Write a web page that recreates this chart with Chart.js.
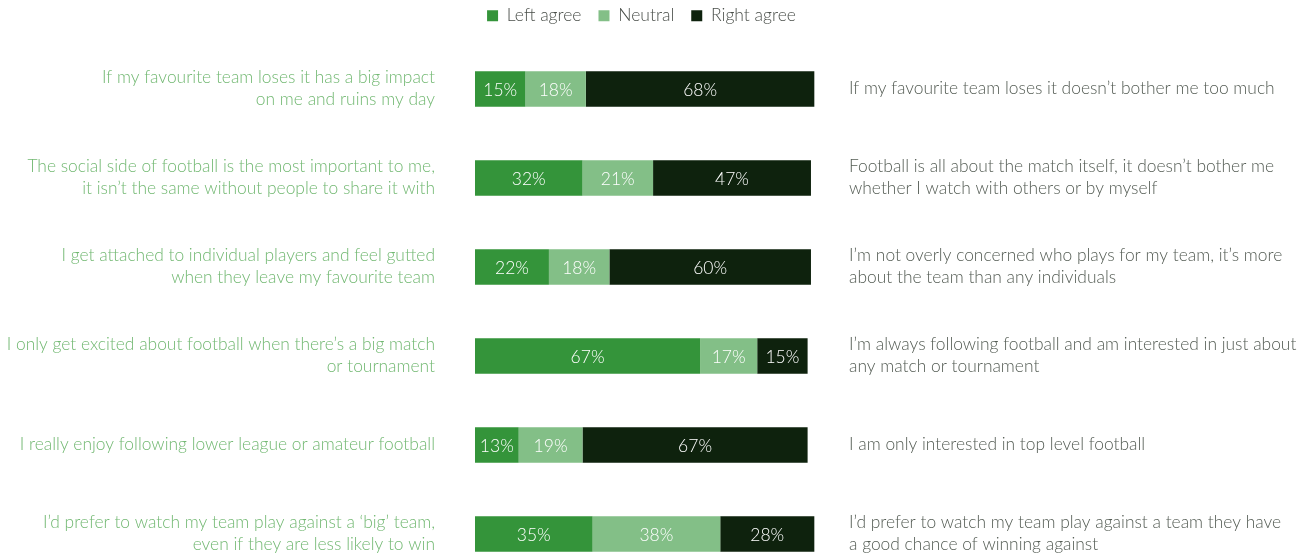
<!DOCTYPE html>
<html>
<head>
<meta charset="utf-8">
<script src="https://cdn.jsdelivr.net/npm/chart.js@4/dist/chart.umd.min.js"></script>
<style>
  html, body { margin: 0; padding: 0; background: #fff; overflow: hidden; }
  #wrap { width: 1313px; height: 557px; }
</style>
</head>
<body>
<div id="wrap"><canvas id="myChart" width="1313" height="557"></canvas></div>
<script>
// statements on the left side
const leftLabels = [
    ['If my favourite team loses it has a big impact', 'on me and ruins my day'],
    ['The social side of football is the most important to me,', 'it isn\u2019t the same without people to share it with'],
    ['I get attached to individual players and feel gutted', 'when they leave my favourite team'],
    ['I only get excited about football when there\u2019s a big match', 'or tournament'],
    'I really enjoy following lower league or amateur football',
    ['I\u2019d prefer to watch my team play against a \u2018big\u2019 team,', 'even if they are less likely to win']
];

// statements on the right side
const rightLabels = [
    'If my favourite team loses it doesn\u2019t bother me too much',
    ['Football is all about the match itself, it doesn\u2019t bother me', 'whether I watch with others or by myself'],
    ['I\u2019m not overly concerned who plays for my team, it\u2019s more', 'about the team than any individuals'],
    ['I\u2019m always following football and am interested in just about', 'any match or tournament'],
    'I am only interested in top level football',
    ['I\u2019d prefer to watch my team play against a team they have', 'a good chance of winning against']
];

// percentages
const leftAgree = [15, 32, 22, 67, 13, 35];
const neutral = [18, 21, 18, 17, 19, 38];
const rightAgree = [68, 47, 60, 15, 67, 28];

const FONT = 'Lato, "Open Sans", sans-serif';

// writes the % inside each bar segment
const barValues = {
    id: 'barValues',
    afterDatasetsDraw(chart) {
        const ctx = chart.ctx;
        ctx.save();
        ctx.fillStyle = '#ffffff';
        ctx.font = '300 17.5px ' + FONT;
        ctx.textAlign = 'center';
        ctx.textBaseline = 'middle';
        chart.data.datasets.forEach((ds, i) => {
            chart.getDatasetMeta(i).data.forEach((bar, j) => {
                const x = (bar.base + bar.x) / 2;
                ctx.fillText(ds.data[j] + '%', x, bar.y + 1);
            });
        });
        ctx.restore();
    }
};

// nudge the legend up and a bit left, like the original
const legendNudge = {
    id: 'legendNudge',
    afterLayout(chart) {
        const lg = chart.legend;
        const h = lg.height;
        lg.top = -10;
        lg.bottom = lg.top + h;
        lg.left -= 15;
        lg.right -= 15;
    }
};

const ctx = document.getElementById('myChart').getContext('2d');
const myChart = new Chart(ctx, {
    type: 'bar',
    data: {
        labels: leftLabels,
        datasets: [
            { label: 'Left agree', data: leftAgree, backgroundColor: '#34943a', clip: false },
            { label: 'Neutral', data: neutral, backgroundColor: '#83bf87', clip: false },
            { label: 'Right agree', data: rightAgree, backgroundColor: '#0e220d', clip: false }
        ]
    },
    options: {
        indexAxis: 'y',
        responsive: false,
        animation: false,
        categoryPercentage: 1,
        barPercentage: 0.4,
        layout: { padding: 0 },
        plugins: {
            tooltip: { enabled: false },
            legend: {
                position: 'top',
                labels: {
                    boxWidth: 11,
                    boxHeight: 11,
                    padding: 17,
                    color: '#4a4f4a',
                    font: { family: FONT, size: 17.5, weight: '300' }
                }
            },
            // empty spacer between legend and bars
            title: {
                display: true,
                text: '',
                position: 'top',
                weight: 100,
                font: { size: 10 },
                padding: { top: 0, bottom: 10 }
            }
        },
        scales: {
            x: {
                stacked: true,
                display: false,
                min: 0,
                max: 101.2
            },
            y: {
                stacked: true,
                offset: false,
                position: 'left',
                grid: { display: false, drawTicks: false },
                border: { display: false },
                ticks: {
                    padding: 40,
                    labelOffset: -1,
                    color: '#72b872',
                    font: { family: FONT, size: 17.4, weight: '300', lineHeight: 1.27 }
                },
                afterFit(axis) {
                    axis.width = 475;
                    axis.paddingTop = 89;
                    axis.paddingBottom = 23;
                }
            },
            yRight: {
                type: 'category',
                labels: rightLabels,
                offset: false,
                position: 'right',
                grid: { display: false, drawTicks: false },
                border: { display: false },
                ticks: {
                    padding: 34,
                    labelOffset: -1,
                    color: '#545c54',
                    font: { family: FONT, size: 17.4, weight: '300', lineHeight: 1.27 }
                },
                afterFit(axis) {
                    axis.width = 498;
                    axis.paddingTop = 89;
                    axis.paddingBottom = 23;
                }
            }
        }
    },
    plugins: [barValues, legendNudge]
});
</script>
</body>
</html>
